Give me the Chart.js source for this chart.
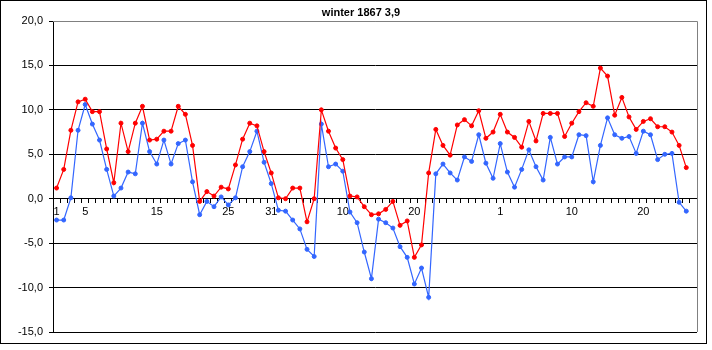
<!DOCTYPE html>
<html>
<head>
<meta charset="utf-8">
<script src="https://cdn.jsdelivr.net/npm/chart.js@4.4.0/dist/chart.umd.min.js"></script>
<style>
  html, body { margin: 0; padding: 0; background: #fff; }
  #wrap { position: relative; width: 712px; height: 350px; }
  #frame { position: absolute; left: 0; top: 0; width: 707px; height: 344px; box-sizing: border-box; border: 1px solid #000; pointer-events: none; }
  canvas { position: absolute; left: 0; top: 0; }
</style>
</head>
<body>
<div id="wrap">
  <canvas id="chart" width="712" height="350"></canvas>
  <div id="frame"></div>
</div>
<script>
const chartTitle = 'winter 1867 3,9';

// days Dec 1866 .. Feb 1867
const monthLengths = [31, 31, 28];

// tick labels shown under the zero line (category index -> text)
const tickIndex = [0, 4, 14, 24, 30, 40, 50, 62, 72, 82];
const tickText = ['1', '5', '15', '25', '31', '10', '20', '1', '10', '20'];

// red series (upper)
const redValues = [
  1.2, 3.3, 7.7, 10.9, 11.2, 9.8, 9.8, 5.6, 1.8, 8.5,
  5.3, 8.5, 10.4, 6.6, 6.7, 7.6, 7.6, 10.4, 9.5, 6.0,
  -0.3, 0.8, 0.3, 1.3, 1.1, 3.8, 6.7, 8.5, 8.2, 5.3,
  2.9, 0.1, 0.0, 1.2, 1.2, -2.6, 0.0, 10.0, 7.6, 5.7,
  4.4, 0.3, 0.2, -0.9, -1.8, -1.7, -1.2, -0.3, -3.0, -2.5,
  -6.6, -5.2, 2.9, 7.8, 6.0, 4.9, 8.3, 8.9, 8.2, 9.9,
  6.8, 7.5, 9.5, 7.5, 6.9, 5.8, 8.7, 6.5, 9.6, 9.6,
  9.6, 7.0, 8.5, 9.8, 10.8, 10.4, 14.7, 13.8, 9.4, 11.4,
  9.2, 7.8, 8.7, 9.0, 8.1, 8.1, 7.5, 6.0, 3.5, null
];

// blue series (lower)
const blueValues = [
  -2.4, -2.4, 0.1, 7.7, 10.6, 8.4, 6.6, 3.3, 0.3, 1.2,
  3.0, 2.8, 8.5, 5.3, 3.9, 6.6, 3.9, 6.2, 6.6, 1.9,
  -1.8, -0.3, -0.9, 0.2, -0.7, 0.1, 3.6, 5.3, 7.6, 4.1,
  1.7, -1.3, -1.4, -2.4, -3.4, -5.7, -6.5, 8.4, 3.6, 3.9,
  3.1, -1.5, -2.7, -6.0, -9.0, -2.3, -2.7, -3.3, -5.4, -6.6,
  -9.6, -7.8, -11.1, 2.8, 3.9, 2.9, 2.1, 4.7, 4.2, 7.2,
  4.0, 2.3, 6.2, 3.0, 1.3, 3.3, 5.5, 3.6, 2.1, 6.9,
  3.9, 4.7, 4.7, 7.2, 7.1, 1.9, 6.0, 9.1, 7.2, 6.8,
  7.0, 5.1, 7.6, 7.2, 4.4, 5.0, 5.1, -0.4, -1.4, null
];

const categories = [];
monthLengths.forEach(n => { for (let d = 1; d <= n; d++) categories.push(String(d)); });

const font = { family: "'Liberation Sans', Arial, sans-serif", size: 11 };

// gray border on the top/right of the plot area + the title text
const plotBorder = {
  id: 'plotBorder',
  beforeDatasetsDraw(chart) {
    const { ctx, chartArea: a } = chart;
    ctx.save();
    ctx.strokeStyle = '#808080';
    ctx.lineWidth = 1;
    ctx.beginPath();
    const x = Math.round(a.right) + 0.5;
    ctx.moveTo(a.left, Math.round(a.top) + 0.5);
    ctx.lineTo(x, Math.round(a.top) + 0.5);
    ctx.lineTo(x, a.bottom);
    ctx.stroke();
    ctx.restore();
  },
  afterDraw(chart) {
    const ctx = chart.ctx;
    ctx.save();
    ctx.fillStyle = '#000';
    ctx.font = "bold 11px 'Liberation Sans', Arial, sans-serif";
    ctx.textAlign = 'center';
    ctx.textBaseline = 'middle';
    ctx.fillText(chartTitle, 361, 13);
    ctx.restore();
  }
};

new Chart(document.getElementById('chart'), {
  type: 'line',
  data: {
    labels: categories,
    datasets: [
      {
        data: redValues,
        borderColor: '#ff0000',
        backgroundColor: '#ff0000',
        borderWidth: 1.2,
        pointRadius: 2,
        pointBorderWidth: 1,
        tension: 0
      },
      {
        data: blueValues,
        borderColor: '#3366ff',
        backgroundColor: '#3366ff',
        borderWidth: 1.2,
        pointRadius: 2,
        pointBorderWidth: 1,
        tension: 0
      }
    ]
  },
  options: {
    responsive: false,
    animation: false,
    devicePixelRatio: 1,
    layout: { padding: { left: 0, right: 15, top: 21, bottom: 18 } },
    plugins: {
      legend: { display: false },
      tooltip: { enabled: false },
      title: { display: false }
    },
    scales: {
      x: {
        type: 'category',
        position: { y: 0 },
        offset: true,
        grid: { offset: true, drawOnChartArea: false, drawTicks: true, tickLength: 4, color: '#000' },
        border: { display: true, color: '#000', width: 1 },
        ticks: {
          autoSkip: false,
          maxRotation: 0,
          padding: 3,
          color: '#000',
          font,
          callback: (v, i) => {
            const k = tickIndex.indexOf(i);
            return k >= 0 ? tickText[k] : '';
          }
        }
      },
      y: {
        min: -15,
        max: 20,
        afterFit: s => { s.width = 53; },
        grid: {
          color: c => (c.tick && c.tick.value === 20 ? '#808080' : '#000'),
          tickColor: '#000',
          tickLength: 4,
          drawTicks: true
        },
        border: { display: true, color: '#000', width: 1 },
        ticks: {
          stepSize: 5,
          padding: 6,
          color: '#000',
          font,
          callback: v => v.toFixed(1).replace('.', ',')
        }
      }
    }
  },
  plugins: [plotBorder]
});
</script>
</body>
</html>
